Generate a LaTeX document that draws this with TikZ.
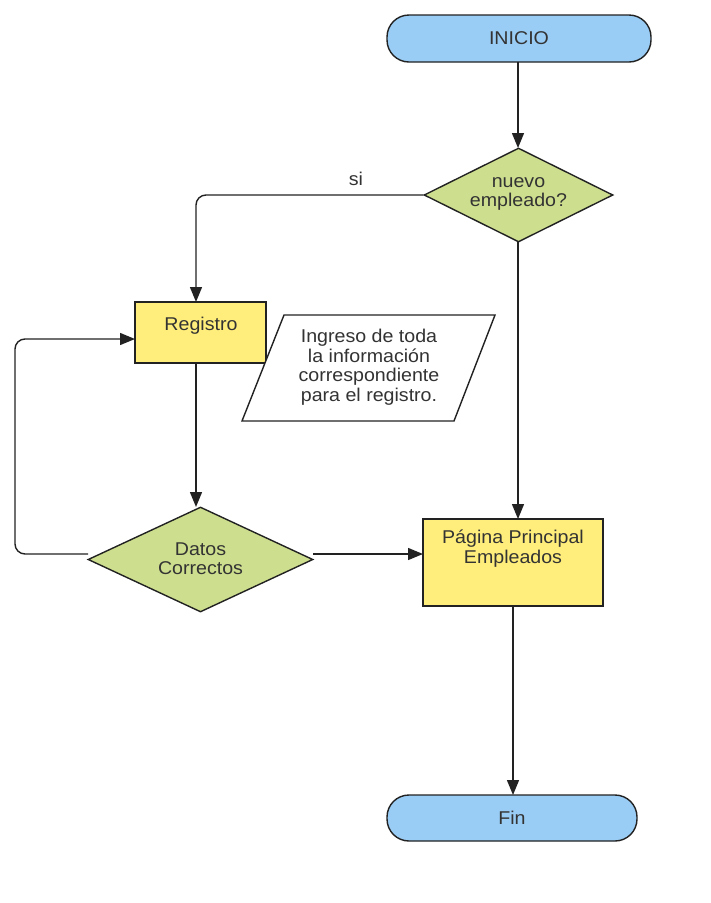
\documentclass[tikz,border=0pt]{standalone}
\usepackage{fontspec}
\setmainfont{Liberation Sans}[FakeStretch=1.06]
\usetikzlibrary{shapes.geometric,arrows.meta}
\definecolor{termfill}{HTML}{9ACDF5}
\definecolor{decfill}{HTML}{CDDF8E}
\definecolor{procfill}{HTML}{FFEE7B}
\definecolor{edgecol}{HTML}{222222}
\definecolor{txtcol}{HTML}{333333}
\tikzset{
  base/.style={draw=edgecol, line width=1.4pt, text=txtcol, inner sep=0pt, font=\fontsize{18.5}{19.5}\selectfont, align=center},
  terminal/.style={base, rectangle, rounded corners=22pt, fill=termfill},
  decision/.style={base, diamond, fill=decfill},
  process/.style={base, rectangle, fill=procfill},
  label/.style={text=txtcol, inner sep=0pt, font=\fontsize{18.5}{19.5}\selectfont, align=center},
  conn/.style={draw=edgecol, line width=1.4pt, -{Triangle[length=15pt,width=12pt]}},
  plain/.style={draw=edgecol, line width=1.4pt}
}
\begin{document}
\begin{tikzpicture}[x=1pt,y=-1pt]
\useasboundingbox (0,0) rectangle (711,903);
% nodes
\node[terminal, minimum width=264pt, minimum height=47pt] (inicio) at (519,38.5) {INICIO};
\node[decision, minimum width=189pt, minimum height=94pt] (nuevo) at (518.5,195) {};
\node[label] (nuevotxt) at (518.5,194) {nuevo\\empleado?};
\node[process, minimum width=131pt, minimum height=61pt] (registro) at (200.5,332.5) {};
\node[label] (registrotxt) at (201,325.5) {Registro};
\draw[plain, fill=white] (284,315) -- (495,315) -- (454,421) -- (242,421) -- cycle;
\node[label] (ingreso) at (369,367) {Ingreso de toda\\la información\\correspondiente\\para el registro.};
\node[decision, minimum width=225pt, minimum height=105pt] (datos) at (200.5,559.5) {};
\node[label] (datostxt) at (200.5,558.5) {Datos\\Correctos};
\node[process, minimum width=180pt, minimum height=87pt] (pagina) at (513,562.5) {};
\node[label, anchor=north] (paginatxt) at (513,530) {Página Principal\\Empleados};
\node[terminal, minimum width=250pt, minimum height=46pt] (fin) at (512,818) {Fin};
\node[label] (si) at (356,179) {si};
% coordinates
\coordinate (c1) at (518,62);
\coordinate (c2) at (518,148);
\coordinate (regin) at (196,302);
\coordinate (regout) at (196,363);
\coordinate (datin) at (196,507);
\coordinate (loopstart) at (88,554);
\coordinate (regleft) at (135,339);
\coordinate (datright) at (313,554);
\coordinate (pagleft) at (423,554);
\coordinate (nuevob) at (518,242);
\coordinate (pagtop) at (518,519);
\coordinate (pagbot) at (513,606);
\coordinate (fintop) at (513,795);
% connectors
\draw[conn] (c1) -- (c2);
\draw[conn, rounded corners=10pt] (nuevo.west) -- (196,195) -- (regin);
\draw[conn] (regout) -- (datin);
\draw[conn, rounded corners=10pt] (loopstart) -- (15,554) -- (15,339) -- (regleft);
\draw[conn] (datright) -- (pagleft);
\draw[conn] (nuevob) -- (pagtop);
\draw[conn] (pagbot) -- (fintop);
\end{tikzpicture}
\end{document}
